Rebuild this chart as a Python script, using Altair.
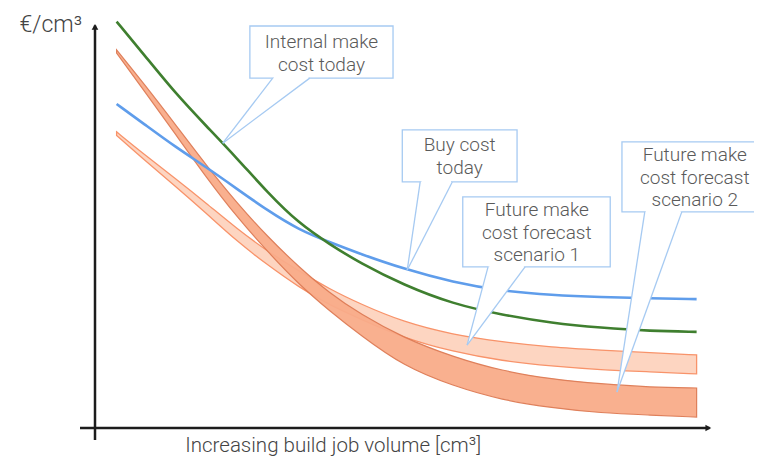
import altair as alt
import pandas as pd

# ---- data (arbitrary units: x = build job volume, y = €/cm³) ----
x_vals = [3.5, 8, 13, 18, 23, 28, 33, 38, 43, 50, 58, 66, 74, 82, 90, 97.5]
internal_make_today = [100.6, 92.3, 82.9, 74.8, 66.8, 58.2, 50.7, 45.5, 40.8, 35.4, 30.7, 28.0, 26.0, 24.8, 24.0, 23.8]
buy_cost_today = [80.2, 75.2, 69.6, 64.6, 59.2, 53.8, 49.1, 46.0, 43.1, 39.4, 36.1, 33.9, 32.9, 32.4, 32.1, 31.9]
scen1_upper = [73.3, 67.7, 61.8, 55.7, 49.3, 43.7, 38.9, 34.4, 30.7, 26.2, 23.1, 21.3, 20.0, 19.3, 18.6, 18.1]
scen1_lower = [72.4, 66.3, 59.9, 53.2, 46.2, 40.3, 34.9, 30.4, 27.0, 22.3, 18.9, 16.6, 15.3, 14.4, 13.9, 13.4]
scen2_upper = [93.6, 85.1, 75.2, 65.1, 55.7, 47.3, 39.9, 33.4, 28.2, 22.3, 17.6, 14.1, 12.1, 10.9, 10.1, 9.9]
scen2_lower = [92.8, 83.4, 72.8, 62.1, 52.2, 43.6, 35.6, 29.0, 23.0, 15.3, 10.4, 6.9, 5.0, 3.7, 3.2, 2.7]

# callouts: text lines, box (x1, x2, y_top, y_bottom), wedge base x's, wedge apex
callout_texts = [
    ["Internal make", "cost today"],
    ["Buy cost", "today"],
    ["Future make", "cost forecast", "scenario 1"],
    ["Future make", "cost forecast", "scenario 2"],
]
box_x1 = [25.1, 49.8, 59.6, 85.4]
box_x2 = [48.3, 68.4, 83.5, 110.0]
box_top = [99.5, 73.8, 57.2, 70.8]
box_bottom = [86.6, 60.9, 39.9, 53.5]
wedge_base_left = [28.8, 52.7, 63.7, 89.1]
wedge_base_right = [34.8, 57.9, 69.7, 95.1]
apex_x = [20.7, 50.6, 60.3, 84.6]
apex_y = [70.5, 39.1, 20.5, 8.9]
text_center_x = [36.7, 59.1, 71.6, 97.2]
text_line_y = [[95.5, 89.9], [70.0, 64.4], [54.0, 48.3, 42.8], [67.6, 61.9, 56.4]]

y_axis_label = "€/cm³"
x_axis_label = "Increasing build job volume [cm³]"

# ---- tables ----
curves = pd.DataFrame({
    "x": x_vals,
    "green": internal_make_today,
    "blue": buy_cost_today,
    "s1u": scen1_upper, "s1l": scen1_lower,
    "s2u": scen2_upper, "s2l": scen2_lower,
})

boxes = pd.DataFrame({"x1": box_x1, "x2": box_x2, "yt": box_top, "yb": box_bottom})

wedge_rows, edge_rows, base_rows = [], [], []
for i in range(len(box_x1)):
    verts = sorted([(wedge_base_left[i], box_bottom[i]),
                    (wedge_base_right[i], box_bottom[i]),
                    (apex_x[i], apex_y[i])])
    (x0, y0), (x1, y1), (x2, y2) = verts
    y_other = y0 + (x1 - x0) / (x2 - x0) * (y2 - y0)
    wedge_rows += [
        {"id": i, "x": x0, "y": y0, "y2": y0},
        {"id": i, "x": x1, "y": y1, "y2": y_other},
        {"id": i, "x": x2, "y": y2, "y2": y2},
    ]
    for bx in (wedge_base_left[i], wedge_base_right[i]):
        edge_rows.append({"x": bx, "y": box_bottom[i], "x2": apex_x[i], "y2": apex_y[i]})
    base_rows.append({"x": wedge_base_left[i] + 0.2, "x2": wedge_base_right[i] - 0.2, "y": box_bottom[i]})
wedges = pd.DataFrame(wedge_rows)
edges = pd.DataFrame(edge_rows)
bases = pd.DataFrame(base_rows)

text_rows = []
for i, lines in enumerate(callout_texts):
    for t, yy in zip(lines, text_line_y[i]):
        text_rows.append({"t": t, "x": text_center_x[i], "y": yy})
texts = pd.DataFrame(text_rows)

XS = alt.Scale(domain=[-14.1, 106.8], nice=False, zero=False)
YS = alt.Scale(domain=[-6.93, 103.96], nice=False, zero=False)

def X(f):
    return alt.X(f, type="quantitative", scale=XS, axis=None)

def Y(f):
    return alt.Y(f, type="quantitative", scale=YS, axis=None)

AX = "#1c1c1c"
CALL = "#A6CAF2"
TXT = "#5a5a5a"

axes_df = pd.DataFrame([
    {"x": 0, "y": -2.97, "x2": 0, "y2": 99.6},
    {"x": -2.43, "y": 0, "x2": 99.6, "y2": 0},
])
axis_lines = alt.Chart(axes_df).mark_rule(color=AX, strokeWidth=2.5).encode(
    x=X("x"), y=Y("y"), x2="x2", y2="y2")
arrow_up = alt.Chart(pd.DataFrame({"x": [0], "y": [99.3]})).mark_point(
    shape="triangle-up", filled=True, color=AX, size=45, opacity=1).encode(x=X("x"), y=Y("y"))
arrow_right = alt.Chart(pd.DataFrame({"x": [99.4], "y": [0]})).mark_point(
    shape="triangle-right", filled=True, color=AX, size=45, opacity=1).encode(x=X("x"), y=Y("y"))

band1 = alt.Chart(curves).mark_area(
    interpolate="basis", fill="#FDD5C1", stroke="#F8936A", strokeWidth=1.3, opacity=1
).encode(x=X("x"), y=Y("s1u"), y2="s1l")
band2 = alt.Chart(curves).mark_area(
    interpolate="basis", fill="#F9AC8A", stroke="#DE7A53", strokeWidth=1.2, opacity=0.95
).encode(x=X("x"), y=Y("s2u"), y2="s2l")
blue_line = alt.Chart(curves).mark_line(
    interpolate="basis", color="#5F9DEB", strokeWidth=2.6).encode(x=X("x"), y=Y("blue"))
green_line = alt.Chart(curves).mark_line(
    interpolate="basis", color="#3F7F2F", strokeWidth=2.6).encode(x=X("x"), y=Y("green"))

box_layer = alt.Chart(boxes).mark_rect(fill="white", stroke=CALL, strokeWidth=1.3).encode(
    x=X("x1"), x2="x2", y=Y("yt"), y2="yb")
wedge_fill = alt.Chart(wedges).mark_area(fill="white", opacity=1, interpolate="linear").encode(
    x=X("x"), y=Y("y"), y2="y2", detail="id:N")
base_cover = alt.Chart(bases).mark_rule(color="white", strokeWidth=2.6).encode(
    x=X("x"), x2="x2", y=Y("y"))
edge_layer = alt.Chart(edges).mark_rule(color=CALL, strokeWidth=1.3).encode(
    x=X("x"), y=Y("y"), x2="x2", y2="y2")
text_layer = alt.Chart(texts).mark_text(
    font="Roboto", fontSize=19, fontWeight=300, color=TXT, align="center", baseline="middle"
).encode(x=X("x"), y=Y("y"), text="t:N")

ylab = alt.Chart(pd.DataFrame({"x": [-2.1], "y": [99.7], "t": [y_axis_label]})).mark_text(
    font="Roboto", fontSize=23, fontWeight=300, color="#444", align="right", baseline="middle"
).encode(x=X("x"), y=Y("y"), text="t:N")
xlab = alt.Chart(pd.DataFrame({"x": [38.6], "y": [-5.94], "t": [x_axis_label]})).mark_text(
    font="Roboto", fontSize=20.5, fontWeight=300, color="#444", align="center", baseline="alphabetic"
).encode(x=X("x"), y=Y("y"), text="t:N")

chart = alt.layer(
    axis_lines, arrow_up, arrow_right,
    band1, band2, blue_line, green_line,
    box_layer, wedge_fill, base_cover, edge_layer, text_layer,
    ylab, xlab,
).properties(
    width=746, height=448, padding=0, autosize=alt.AutoSizeParams(type="none")
).configure_view(stroke=None)

chart.save("out.html", embed_options={"renderer": "svg", "actions": False})
